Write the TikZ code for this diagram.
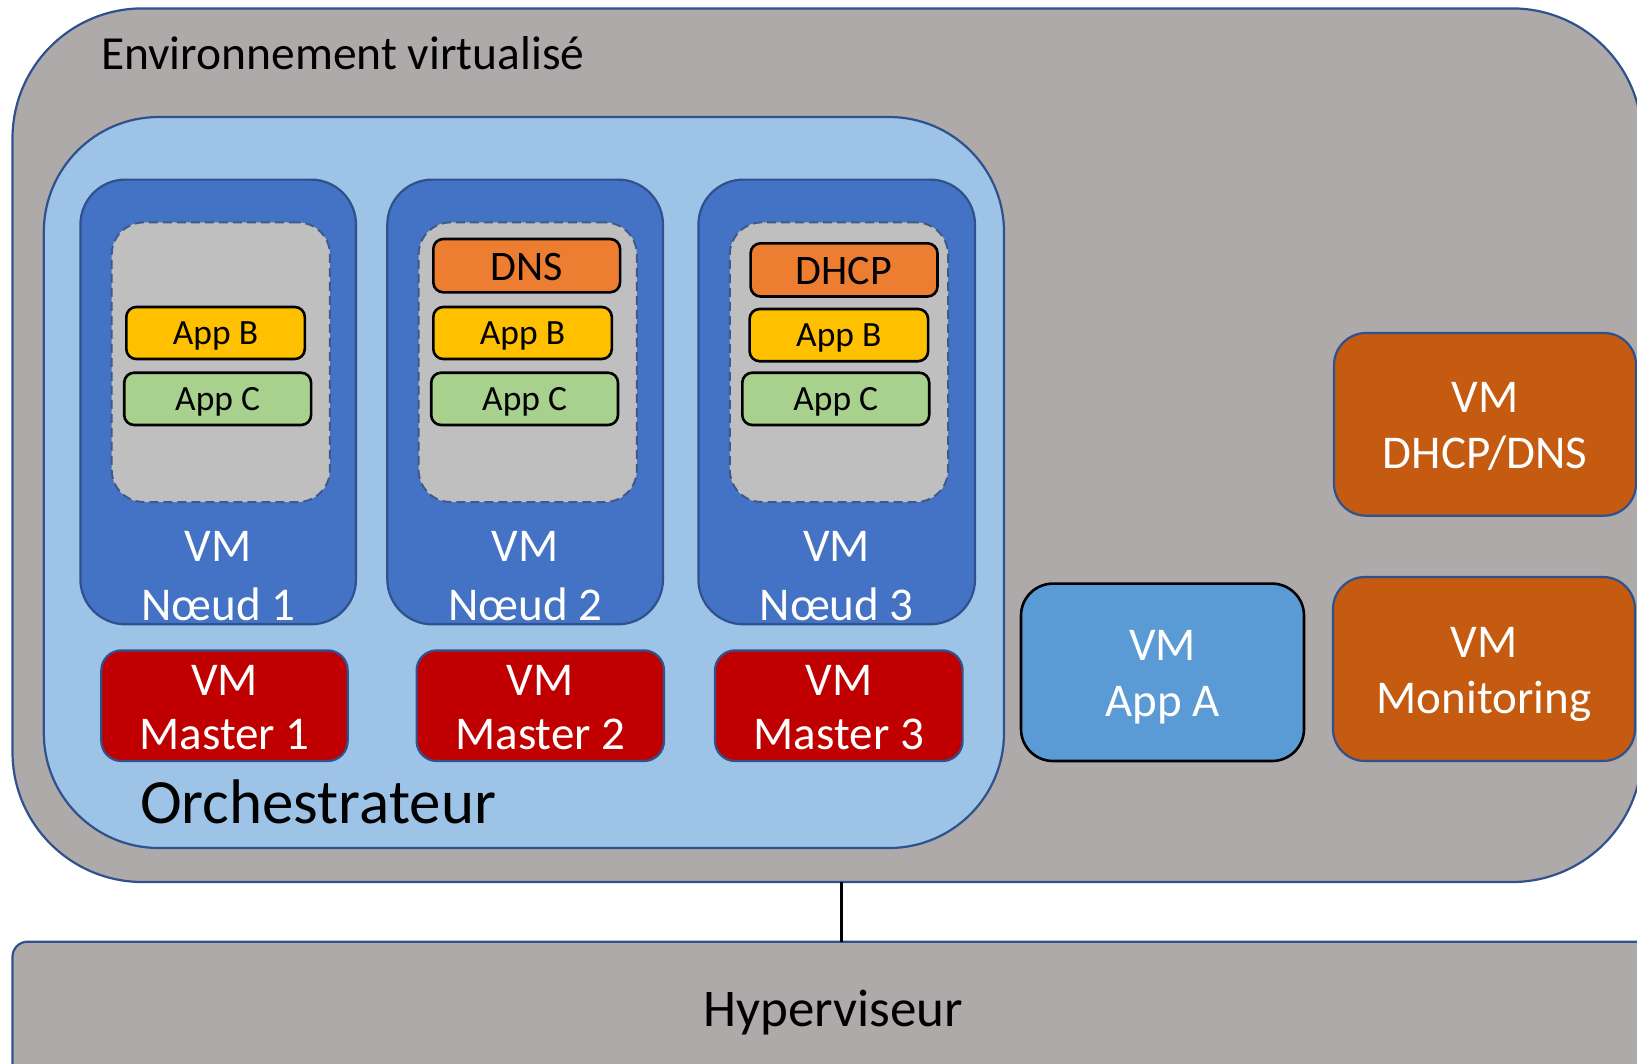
\documentclass[tikz,border=0pt]{standalone}
\usepackage{fontspec}
\setmainfont{Carlito}
\definecolor{envgrey}{HTML}{AEAAAA}
\definecolor{edgeblue}{HTML}{2F528F}
\definecolor{orchblue}{HTML}{9DC3E6}
\definecolor{nodeblue}{HTML}{4472C4}
\definecolor{podgrey}{HTML}{BFBFBF}
\definecolor{podedge}{HTML}{3E5A8A}
\definecolor{svcorange}{HTML}{ED7D31}
\definecolor{appbyellow}{HTML}{FFC000}
\definecolor{appcgreen}{HTML}{A9D18E}
\definecolor{masterred}{HTML}{C00000}
\definecolor{appablue}{HTML}{5B9BD5}
\definecolor{vmorange}{HTML}{C55A11}
\tikzset{
  box/.style={rectangle, inner sep=0pt, outer sep=0pt},
  blueedge/.style={draw=edgeblue, line width=2.2pt},
  blackedge/.style={draw=black, line width=2.6pt},
  envbox/.style={box, blueedge, fill=envgrey},
  orchbox/.style={box, blueedge, fill=orchblue},
  vmnode/.style={box, blueedge, fill=nodeblue},
  podbox/.style={box, draw=podedge, line width=2pt, dash pattern=on 9pt off 5pt, fill=podgrey},
  svcbox/.style={box, blackedge, fill=svcorange},
  appbbox/.style={box, blackedge, fill=appbyellow},
  appcbox/.style={box, blackedge, fill=appcgreen},
  masterbox/.style={box, blueedge, fill=masterred},
  appabox/.style={box, blackedge, fill=appablue},
  vmobox/.style={box, blueedge, fill=vmorange},
  lbl/.style={anchor=base, inner sep=0pt, outer sep=0pt},
  vmtxt/.style={lbl, text=white, font=\fontsize{47}{57}\selectfont},
  apptxt/.style={lbl, text=black, font=\fontsize{35.5}{43}\selectfont},
  svctxt/.style={lbl, text=black, font=\fontsize{42}{50}\selectfont},
  link/.style={draw=black, line width=3.8pt},
}
% \rbox{name}{style}{x1}{y1}{x2}{y2}{corner radius}
\newcommand\rbox[7]{%
  \node[#2, rounded corners=#7pt,
        minimum width={(#5-#3)*1pt}, minimum height={(#6-#4)*1pt}]
    (#1) at ({(#3+#5)/2},{(#4+#6)/2}) {};}
\begin{document}
\begin{tikzpicture}[x=1pt, y=-1pt]
  \useasboundingbox (0,0) rectangle (1637,1063);
  \clip (0,0) rectangle (1637,1063);
  \fill[white] (0,0) rectangle (1637,1063);

  % virtualised environment and hypervisor
  \rbox{env}{envbox}{12.5}{8.4}{1642}{882}{130}
  \rbox{hyp}{envbox}{12.5}{941.7}{1654}{1110}{15}
  \node[lbl, anchor=base west, font=\fontsize{47.5}{57}\selectfont] (envtitle) at (101,69) {Environnement virtualisé};
  \node[lbl, font=\fontsize{53}{64}\selectfont] (hyptitle) at (833,1026) {Hyperviseur};
  \coordinate (linkx) at (841.5,0);
  \draw[link] (linkx |- env.south) -- (linkx |- hyp.north);

  % orchestrator
  \rbox{orch}{orchbox}{43.8}{117}{1004}{848}{115}
  \node[lbl, anchor=base west, font=\fontsize{63}{76}\selectfont] (orchtitle) at (140,823) {Orchestrateur};

  % worker VMs
  \rbox{node1}{vmnode}{80.4}{179.6}{356}{624.3}{45}
  \rbox{node2}{vmnode}{387.3}{179.6}{663}{624.3}{45}
  \rbox{node3}{vmnode}{698.4}{179.6}{975}{624.3}{45}

  \rbox{pod1}{podbox}{111.7}{222.4}{329.9}{502}{32}
  \rbox{pod2}{podbox}{418.6}{222.4}{636.8}{502}{32}
  \rbox{pod3}{podbox}{729.8}{222.4}{948}{502}{32}

  \rbox{dns}{svcbox}{433.3}{239}{620.1}{292.3}{10}
  \rbox{dhcp}{svcbox}{750.6}{243.3}{937.5}{296.5}{10}
  \node[svctxt] (dns-t) at (526.7,280.5) {DNS};
  \node[svctxt] (dhcp-t) at (844,284.5) {DHCP};

  \rbox{appb1}{appbbox}{126.3}{307}{304.8}{359}{10}
  \rbox{appb2}{appbbox}{433.3}{307}{611.8}{359}{10}
  \rbox{appb3}{appbbox}{749.6}{309}{928.1}{361.2}{10}
  \node[apptxt] (appb1-t) at (215.5,344.4) {App B};
  \node[apptxt] (appb2-t) at (522.5,344.4) {App B};
  \node[apptxt] (appb3-t) at (838.8,346.5) {App B};

  \rbox{appc1}{appcbox}{124.2}{372.7}{311.1}{425}{10}
  \rbox{appc2}{appcbox}{431.2}{372.7}{618}{425}{10}
  \rbox{appc3}{appcbox}{742.3}{372.7}{929.2}{425}{10}
  \node[apptxt] (appc1-t) at (217.6,410.3) {App C};
  \node[apptxt] (appc2-t) at (524.6,410.3) {App C};
  \node[apptxt] (appc3-t) at (835.7,410.3) {App C};

  \node[vmtxt] (node1-a) at (218.2,561) {VM};
  \node[vmtxt] (node1-b) at (218.2,620) {Nœud 1};
  \node[vmtxt] (node2-a) at (525.1,561) {VM};
  \node[vmtxt] (node2-b) at (525.1,620) {Nœud 2};
  \node[vmtxt] (node3-a) at (836.7,561) {VM};
  \node[vmtxt] (node3-b) at (836.7,620) {Nœud 3};

  % control-plane VMs
  \rbox{master1}{masterbox}{101.3}{650.4}{347.7}{761}{20}
  \rbox{master2}{masterbox}{416.6}{650.4}{664}{761}{20}
  \rbox{master3}{masterbox}{715}{650.4}{962.6}{761}{20}
  \node[vmtxt] (master1-a) at (224.5,695) {VM};
  \node[vmtxt] (master1-b) at (224.5,749) {Master 1};
  \node[vmtxt] (master2-a) at (540.3,695) {VM};
  \node[vmtxt] (master2-b) at (540.3,749) {Master 2};
  \node[vmtxt] (master3-a) at (838.8,695) {VM};
  \node[vmtxt] (master3-b) at (838.8,749) {Master 3};

  % standalone VMs
  \rbox{appa}{appabox}{1021}{583.6}{1304}{761}{32}
  \node[vmtxt] (appa-a) at (1162.5,660) {VM};
  \node[vmtxt] (appa-b) at (1162.5,716.7) {App A};

  \rbox{vmdhcp}{vmobox}{1334}{333}{1636}{515.7}{32}
  \node[vmtxt] (vmdhcp-a) at (1485,412) {VM};
  \node[vmtxt] (vmdhcp-b) at (1485,468.2) {DHCP/DNS};

  \rbox{vmmon}{vmobox}{1333}{577}{1635}{761}{32}
  \node[vmtxt] (vmmon-a) at (1484,657) {VM};
  \node[vmtxt] (vmmon-b) at (1484,713.6) {Monitoring};
\end{tikzpicture}
\end{document}
